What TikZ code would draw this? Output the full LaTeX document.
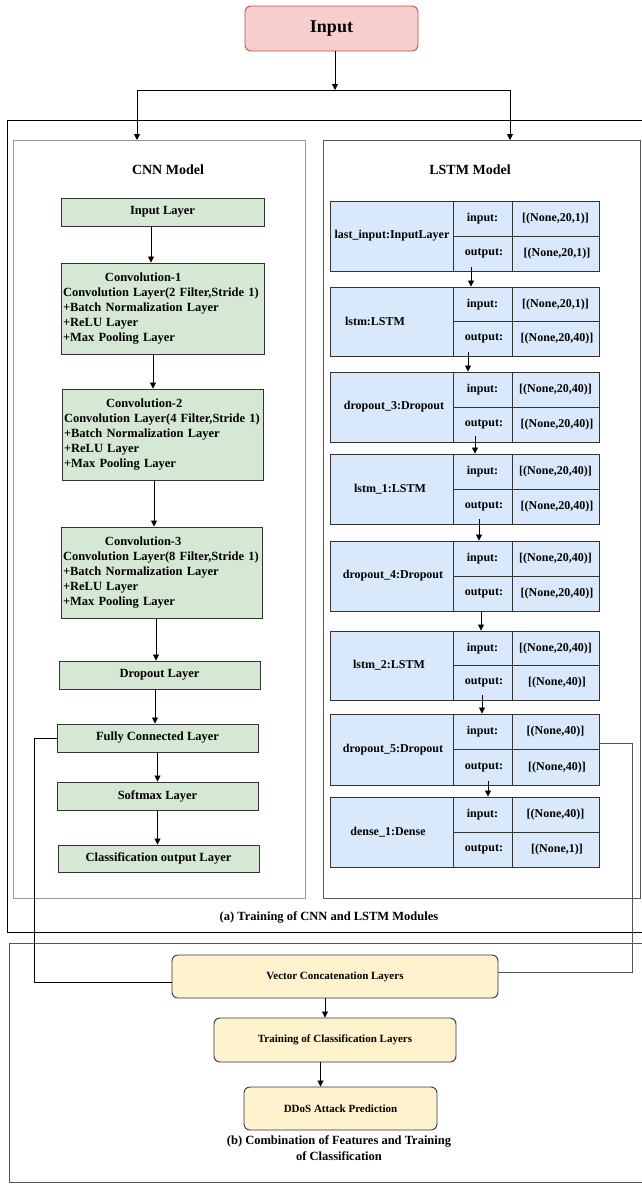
\documentclass[tikz,border=0pt]{standalone}
\usepackage{fontspec}
\setmainfont{Liberation Serif}
\usetikzlibrary{arrows.meta}
\definecolor{cnnfill}{HTML}{D5E8D4}
\definecolor{lstmfill}{HTML}{DAE8FC}
\definecolor{infill}{HTML}{F8CECC}
\definecolor{indraw}{HTML}{B85450}
\definecolor{yfill}{HTML}{FFF2CC}
\definecolor{ydraw}{HTML}{2F3550}
\definecolor{boxgray}{HTML}{333333}
\definecolor{framegray}{HTML}{9A9A9A}
\definecolor{framedark}{HTML}{555555}
\tikzset{
  arr/.style={-{Triangle[length=6pt,width=6pt]}, line width=0.8pt, black},
  conn/.style={line width=0.8pt},
  cbox/.style={draw=boxgray, fill=cnnfill, line width=0.9pt, inner sep=2pt, minimum height=28pt,
    font=\bfseries\fontsize{12.5}{15.2}\selectfont},
  lblk/.style={draw=boxgray, fill=lstmfill, line width=0.9pt, inner sep=0pt, minimum width=269pt},
  cell/.style={draw=boxgray, line width=0.9pt},
  ltxt/.style={font=\bfseries\fontsize{12}{14}\selectfont, inner sep=0pt},
  ybox/.style={draw=ydraw, fill=yfill, line width=0.9pt, rounded corners=6pt, inner sep=0pt,
    font=\bfseries\fontsize{11}{13}\selectfont},
  title/.style={font=\bfseries\fontsize{14}{16}\selectfont, inner sep=0pt},
  capt/.style={font=\bfseries\fontsize{12.5}{16}\selectfont, inner sep=0pt, align=center},
}
\newcommand\lblock[7]{%
  \pgfmathsetmacro\LBt{#2}\pgfmathsetmacro\LBb{#3}%
  \pgfmathsetmacro\LBm{(#2+#3)/2}\pgfmathsetmacro\LBh{#3-#2}%
  \pgfmathsetmacro\LBu{(3*#2+#3)/4}\pgfmathsetmacro\LBd{(#2+3*#3)/4}%
  \node[lblk, minimum height=\LBh pt] (#1) at (464.5,\LBm) {};
  \draw[cell] (453,\LBt) -- (453,\LBb) (512,\LBt) -- (512,\LBb) (453,\LBm) -- (599,\LBm);
  \node[ltxt] at (#5,\LBm) {#4};
  \node[ltxt] at (482.5,\LBu) {input:};
  \node[ltxt] at (484,\LBd) {output:};
  \node[ltxt] at (555.5,\LBu) {#6};
  \node[ltxt] at (557,\LBd) {#7};
}
\begin{document}
\begin{tikzpicture}[x=1pt,y=-1pt]
\clip (0,0) rectangle (642,1184);
\fill[white] (0,0) rectangle (642,1184);

% frames
\draw[line width=0.9pt, black] (7,120) rectangle (648,932);
\draw[line width=1pt, framegray] (13,140) rectangle (305,898);
\draw[line width=1pt, framedark] (323,140) rectangle (640,898);
\draw[line width=0.9pt, framedark] (9,943) rectangle (648,1182);

\node[title] (cnntitle) at (168,170) {CNN Model};
\node[title] (lstmtitle) at (470,170) {LSTM Model};
\node[capt] (capa) at (329,917) {(a) Training of CNN and LSTM Modules};
\node[capt] (capb) at (339,1148) {(b) Combination of Features and Training\\of Classification};

% input
\node[draw=indraw, fill=infill, line width=0.9pt, rounded corners=6pt, minimum width=173pt,
  minimum height=45pt, inner sep=0pt, font=\bfseries\fontsize{18}{20}\selectfont] (input) at (331.5,28.5) {Input};
\coordinate (split) at (335,90);
\coordinate (sl) at (137,90);
\coordinate (sr) at (510,90);
\coordinate (cnntop) at (137,140);
\coordinate (lstmtop) at (510,140);
\draw[arr] ([xshift=3.5pt]input.south) -- (split);
\draw[conn] (sl) -- (sr);
\draw[arr] (sl) -- (cnntop);
\draw[arr] (sr) -- (lstmtop);

% CNN
\node[cbox, minimum width=203pt] (inlayer) at (162.5,212) {Input Layer};
\node[cbox, minimum height=91pt, text width=199pt, align=left] (conv1) at (162.5,308.5)
  {\hspace*{42pt}Convolution-1\\Convolution Layer(2 Filter,Stride 1)\\+Batch Normalization Layer\\+ReLU Layer\\+Max Pooling Layer};
\node[cbox, minimum height=91pt, text width=197pt, align=left] (conv2) at (162.5,434.5)
  {\hspace*{42pt}Convolution-2\\Convolution Layer(4 Filter,Stride 1)\\+Batch Normalization Layer\\+ReLU Layer\\+Max Pooling Layer};
\node[cbox, minimum height=91pt, text width=197pt, align=left] (conv3) at (161.5,572.5)
  {\hspace*{42pt}Convolution-3\\Convolution Layer(8 Filter,Stride 1)\\+Batch Normalization Layer\\+ReLU Layer\\+Max Pooling Layer};
\node[cbox, minimum width=201pt] (dropout) at (159.5,675) {Dropout Layer};
\node[cbox, minimum width=201pt] (fc) at (157.5,738) {Fully Connected Layer};
\node[cbox, minimum width=201pt] (softmax) at (157.5,796) {Softmax Layer};
\node[cbox, minimum width=201pt, minimum height=27pt] (classout) at (158.5,858.5) {Classification output Layer};

\draw[arr] ([xshift=-11.5pt]inlayer.south) -- ([xshift=-11.5pt]inlayer.south |- conv1.north);
\draw[arr] ([xshift=-9.5pt]conv1.south) -- ([xshift=-9.5pt]conv1.south |- conv2.north);
\draw[arr] ([xshift=-8.5pt]conv2.south) -- ([xshift=-8.5pt]conv2.south |- conv3.north);
\draw[arr] ([xshift=-5.5pt]conv3.south) -- ([xshift=-5.5pt]conv3.south |- dropout.north);
\draw[arr] ([xshift=-4.5pt]dropout.south) -- ([xshift=-4.5pt]dropout.south |- fc.north);
\draw[arr] (fc.south) -- (fc.south |- softmax.north);
\draw[arr] (softmax.south) -- (softmax.south |- classout.north);

% LSTM
\lblock{lin}{201}{271}{last\_input:InputLayer}{392}{[(None,20,1)]}{[(None,20,1)]}
\lblock{lstm}{287}{356}{lstm:LSTM}{375}{[(None,20,1)]}{[(None,20,40)]}
\lblock{dr3}{372}{442}{dropout\_3:Dropout}{394}{[(None,20,40)]}{[(None,20,40)]}
\lblock{lone}{454}{524}{lstm\_1:LSTM}{390}{[(None,20,40)]}{[(None,20,40)]}
\lblock{dr4}{541}{611}{dropout\_4:Dropout}{393}{[(None,20,40)]}{[(None,20,40)]}
\lblock{ltwo}{631}{700}{lstm\_2:LSTM}{389}{[(None,20,40)]}{[(None,40)]}
\lblock{dr5}{714}{785}{dropout\_5:Dropout}{393}{[(None,40)]}{[(None,40)]}
\lblock{done}{797}{867}{dense\_1:Dense}{388}{[(None,40)]}{[(None,1)]}

\draw[arr] ([xshift=6.5pt,yshift=4pt]lin.south) -- ([xshift=6.5pt]lin.south |- lstm.north);
\draw[arr] ([xshift=3.5pt,yshift=4pt]lstm.south) -- ([xshift=3.5pt]lstm.south |- dr3.north);
\draw[arr] ([xshift=10.5pt,yshift=6pt]dr3.south) -- ([xshift=10.5pt]dr3.south |- lone.north);
\draw[arr] ([xshift=14.5pt,yshift=5pt]lone.south) -- ([xshift=14.5pt]lone.south |- dr4.north);
\draw[arr] ([xshift=16.5pt]dr4.south) -- ([xshift=16.5pt]dr4.south |- ltwo.north);
\draw[arr] ([xshift=17.5pt,yshift=5pt]ltwo.south) -- ([xshift=17.5pt]ltwo.south |- dr5.north);
\draw[arr] ([xshift=23.5pt,yshift=4pt]dr5.south) -- ([xshift=23.5pt]dr5.south |- done.north);

% bottom
\node[ybox, minimum width=326pt, minimum height=43pt] (vec) at (335,976.5) {Vector Concatenation Layers};
\node[ybox, minimum width=242pt, minimum height=44pt] (train) at (335,1040) {Training of Classification Layers};
\node[ybox, minimum width=193pt, minimum height=43pt] (ddos) at (340.5,1108.5) {DDoS Attack Prediction};
\draw[arr] ([xshift=-10pt]vec.south) -- ([xshift=-10pt]vec.south |- train.north);
\draw[arr] ([xshift=-14.5pt]train.south) -- ([xshift=-14.5pt]train.south |- ddos.north);

\draw[conn] (fc.west) -- ++(-22,0) |- ([yshift=-5.5pt]vec.west);
\draw[conn, framedark] ([yshift=6.5pt]dr5.east) -- ++(33,0) |- ([yshift=4.5pt]vec.east);
\end{tikzpicture}
\end{document}
